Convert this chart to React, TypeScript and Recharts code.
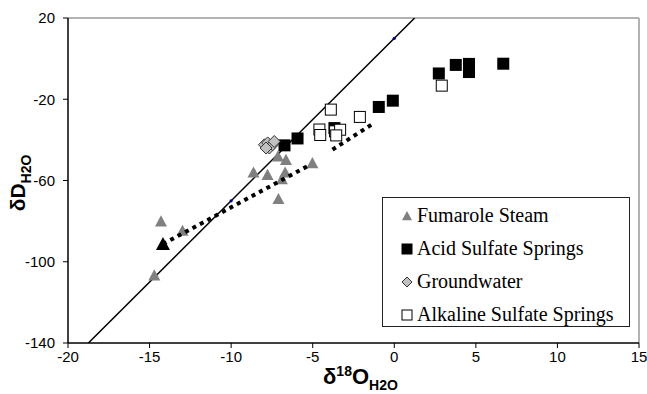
import React from 'react';
import {
  ScatterChart, Scatter, XAxis, YAxis, ReferenceLine,
} from 'recharts';

// δ18O / δD values
const fumaroleO = [-14.3, -12.98, -14.71, -8.63, -7.77, -6.64, -7.13, -6.69, -6.89, -7.1, -5.02];
const fumaroleD = [-80.1, -84.7, -106.7, -56.0, -57.2, -49.8, -48.1, -56.0, -59.3, -69.1, -51.4];

const acidO = [6.68, 4.58, 4.58, 3.77, 2.73, -0.09, -0.95, -5.93, -6.73, -3.67];
const acidD = [-2.5, -2.6, -6.6, -3.1, -7.3, -20.7, -23.8, -39.3, -42.7, -34.2];

const groundO = [-7.96, -7.76, -7.66, -7.46, -7.36, -7.86];
const groundD = [-42.4, -41.5, -44.0, -42.4, -40.8, -44.0];

const alkalineO = [2.91, -3.89, -2.11, -4.59, -4.54, -3.63, -3.32, -3.56];
const alkalineD = [-13.3, -25.1, -28.7, -34.9, -37.6, -35.8, -35.0, -37.8];

// meteoric water line and its two marked points
const gmwlO = [-18.75, 1.25];
const gmwlD = [-140, 20];
const gmwlMarkO = [-10, 0];
const gmwlMarkD = [-70, 10];

// dotted mixing trends
const mix1O = [-14.18, -5.26];
const mix1D = [-91.3, -52.7];
const mix2O = [-3.79, -1.24];
const mix2D = [-44.8, -31.7];

const xTicks = [-20, -15, -10, -5, 0, 5, 10, 15];
const yTicks = [-140, -100, -60, -20, 20];

const legendItems = ['Fumarole Steam', 'Acid Sulfate Springs', 'Groundwater', 'Alkaline Sulfate Springs'];

const pts = (xs: number[], ys: number[]) => xs.map((x, i) => ({ x, y: ys[i] }));

const Tri = ({ cx, cy, fill = '#808080', s = 6 }: any) => (
  <polygon points={`${cx},${cy - s} ${cx - s},${cy + s * 0.85} ${cx + s},${cy + s * 0.85}`} fill={fill} />
);
const Sq = ({ cx, cy, fill = '#000', stroke = 'none', s = 6 }: any) => (
  <rect x={cx - s} y={cy - s} width={s * 2} height={s * 2} fill={fill} stroke={stroke} strokeWidth={1} />
);
const Dia = ({ cx, cy, s = 6 }: any) => (
  <polygon points={`${cx},${cy - s} ${cx + s},${cy} ${cx},${cy + s} ${cx - s},${cy}`} fill="#c0c0c0" stroke="#333" strokeWidth={1} />
);

const legendMarker = (i: number) => {
  const c = 8;
  if (i === 0) return <Tri cx={c} cy={c} s={5} />;
  if (i === 1) return <Sq cx={c} cy={c} s={5.5} />;
  if (i === 2) return <Dia cx={c} cy={c} s={5} />;
  return <Sq cx={c} cy={c} s={5} fill="#fff" stroke="#000" />;
};

const LegendBox = () => (
  <div style={{
    position: 'absolute', left: 382, top: 197,
    border: '1.5px solid #222', width: 246, height: 127, boxSizing: 'content-box', background: '#fff',
    fontFamily: '"Liberation Serif", "Times New Roman", serif', fontSize: 20, color: '#000', paddingTop: 1,
  }}>
    {legendItems.map((t, i) => (
      <div key={t} style={{ display: 'flex', alignItems: 'center', height: 33, paddingLeft: 16 }}>
        <svg width={16} height={16} style={{ marginRight: 2 }}>{legendMarker(i)}</svg>
        <span>{t}</span>
      </div>
    ))}
  </div>
);

const tickStyle = { fontFamily: '"Liberation Sans", Arial, sans-serif', fontSize: 15, fill: '#000' };
const titleFont = '"Liberation Sans", Arial, sans-serif';

export default function App() {
  return (
    <div style={{ position: 'absolute', left: 0, top: 0, width: 647, height: 394, background: '#fff' }}>
      <ScatterChart width={647} height={394} margin={{ top: 18, right: 8, left: 8, bottom: 21 }}>
        <XAxis
          type="number" dataKey="x" domain={[-20, 15]} ticks={xTicks} allowDataOverflow
          axisLine={{ stroke: '#000', strokeWidth: 1.5 }} tickLine={{ stroke: '#000' }}
          tickSize={5} tickMargin={3} height={30} tick={tickStyle} interval={0}
        />
        <YAxis
          type="number" dataKey="y" domain={[-140, 20]} ticks={yTicks} allowDataOverflow
          axisLine={{ stroke: '#000', strokeWidth: 1.5 }} tickLine={{ stroke: '#000' }}
          tickSize={5} tickMargin={8} width={60} tick={tickStyle} interval={0}
        />
        <ReferenceLine y={20} stroke="#999" strokeWidth={1.5} />
        <ReferenceLine x={15} stroke="#999" strokeWidth={1.5} />
        <Scatter
          data={pts(gmwlO, gmwlD)} line={{ stroke: '#000', strokeWidth: 1.5 }}
          shape={() => <g />} isAnimationActive={false}
        />
        <Scatter
          data={pts(gmwlMarkO, gmwlMarkD)} isAnimationActive={false}
          shape={(p: any) => <circle cx={p.cx} cy={p.cy} r={1.6} fill="#000080" />}
        />
        <Scatter data={pts(fumaroleO, fumaroleD)} shape={(p: any) => <Tri cx={p.cx} cy={p.cy} />} isAnimationActive={false} />
        <Scatter
          data={pts(mix1O, mix1D)} line={{ stroke: '#000', strokeWidth: 4, strokeDasharray: '4 4.4' }}
          shape={(p: any) => (p.index === 0 ? <Tri cx={p.cx} cy={p.cy} fill="#000" s={7} /> : <g />)}
          isAnimationActive={false}
        />
        <Scatter
          data={pts(mix2O, mix2D)} line={{ stroke: '#000', strokeWidth: 4, strokeDasharray: '4 4.4' }}
          shape={() => <g />} isAnimationActive={false}
        />
        <Scatter data={pts(acidO, acidD)} shape={(p: any) => <Sq cx={p.cx} cy={p.cy} />} isAnimationActive={false} />
        <Scatter data={pts(groundO, groundD)} shape={(p: any) => <Dia cx={p.cx} cy={p.cy} />} isAnimationActive={false} />
        <Scatter
          data={pts(alkalineO, alkalineD)}
          shape={(p: any) => <Sq cx={p.cx} cy={p.cy} fill="#fff" stroke="#000" s={5.5} />}
          isAnimationActive={false}
        />
      </ScatterChart>
      <LegendBox />
      <div style={{
        position: 'absolute', left: 323, top: 360, fontFamily: titleFont, fontWeight: 'bold',
        fontSize: 22, lineHeight: '22px', whiteSpace: 'nowrap',
      }}>
        δ<sup style={{ fontSize: 14 }}>18</sup>O<sub style={{ fontSize: 14 }}>H2O</sub>
      </div>
      <div style={{
        position: 'absolute', left: 22, top: 183, transform: 'translate(-50%, -50%) rotate(-90deg)',
        fontFamily: titleFont, fontWeight: 'bold', fontSize: 21, lineHeight: '21px', whiteSpace: 'nowrap',
      }}>
        δD<sub style={{ fontSize: 14 }}>H2O</sub>
      </div>
    </div>
  );
}
